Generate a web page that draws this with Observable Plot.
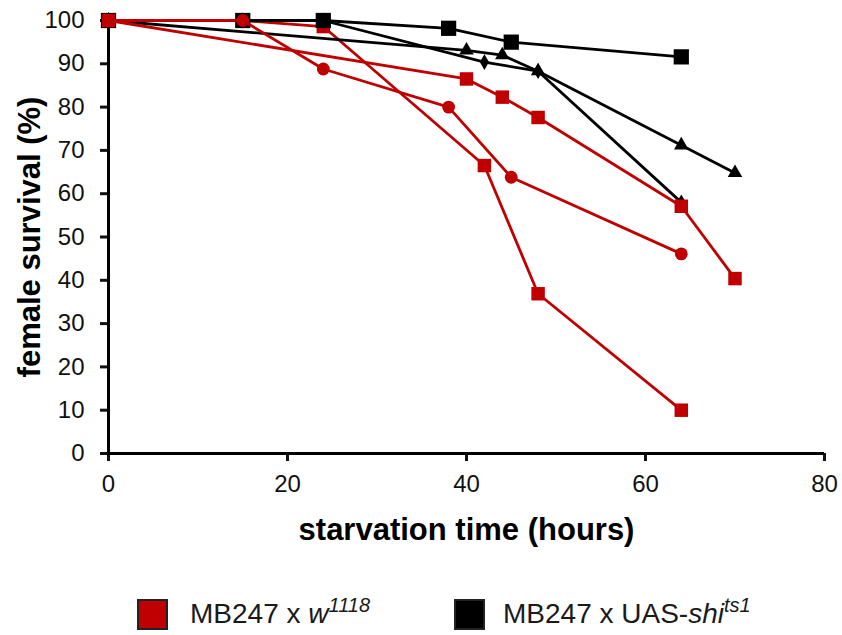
<!DOCTYPE html>
<html>
<head>
<meta charset="utf-8">
<script src="https://cdn.jsdelivr.net/npm/d3@7"></script>
<script src="https://cdn.jsdelivr.net/npm/@observablehq/plot@0.6"></script>
<style>
  body { margin: 0; background: #fff; font-family: "Liberation Sans", Arial, sans-serif; }
  #legend { position: relative; width: 842px; height: 40px; font-size: 28px; color: #1a1a1a; }
  .sw { position: absolute; top: 4px; width: 31px; height: 31px; box-sizing: border-box; border: 2px solid #222; }
  .lab { position: absolute; top: 3px; line-height: 32px; white-space: nowrap; }
  .lab sup { font-size: 20px; vertical-align: 0; position: relative; top: -11px; font-style: italic; }
</style>
</head>
<body>
<div id="chart"></div>
<div id="legend">
  <div class="sw" style="left:137px;background:#C00000;"></div>
  <div class="lab" style="left:190px;">MB247 x <i>w</i><sup>1118</sup></div>
  <div class="sw" style="left:454px;background:#000;"></div>
  <div class="lab" style="left:503px;">MB247 x UAS-<i>shi</i><sup>ts1</sup></div>
</div>
<script>
// ---- data ----
const xTicks = [0, 20, 40, 60, 80];
const yTicks = [0, 10, 20, 30, 40, 50, 60, 70, 80, 90, 100];

// MB247 x w1118 (red)
const redSqA_x = [0, 40, 44, 48, 64, 70];
const redSqA_y = [100, 86.5, 82.3, 77.6, 57.1, 40.4];
const redSqB_x = [0, 15, 24, 42, 48, 64];
const redSqB_y = [100, 100, 98.6, 66.5, 36.9, 10];
const redCirc_x = [0, 15, 24, 38, 45, 64];
const redCirc_y = [100, 100, 88.8, 80, 63.8, 46.1];

// MB247 x UAS-shits1 (black)
const blkSq_x = [0, 15, 24, 38, 45, 64];
const blkSq_y = [100, 100, 100, 98.2, 95, 91.6];
const blkTri_x = [0, 40, 44, 48, 64, 70];
const blkTri_y = [100, 93.1, 92, 88.3, 71.2, 64.8];
const blkDia_x = [0, 15, 24, 42, 48, 64];
const blkDia_y = [100, 100, 100, 90.4, 88.3, 58];

const RED = "#C00000";
const BLK = "#000000";

function rows(xs, ys) { return xs.map((x, i) => ({x, y: ys[i]})); }

const series = [
  {d: rows(redSqB_x, redSqB_y), c: RED, s: "square", r: 7.6},
  {d: rows(blkSq_x, blkSq_y), c: BLK, s: "square", r: 8.6},
  {d: rows(blkDia_x, blkDia_y), c: BLK, s: "diamond", r: 4.8},
  {d: rows(blkTri_x, blkTri_y), c: BLK, s: "triangle", r: 5.4},
  {d: rows(redSqA_x, redSqA_y), c: RED, s: "square", r: 7.6},
  {d: rows(redCirc_x, redCirc_y), c: RED, s: "circle", r: 6.4}
];

const marks = [];
for (const S of series) {
  marks.push(Plot.line(S.d, {x: "x", y: "y", stroke: S.c, strokeWidth: 2.8}));
  marks.push(Plot.dot(S.d, {x: "x", y: "y", fill: S.c, symbol: S.s, r: S.r, stroke: "none"}));
}

const chart = Plot.plot({
  width: 842,
  height: 595,
  marginLeft: 108,
  marginRight: 18,
  marginTop: 20,
  marginBottom: 142,
  style: {fontFamily: "'Liberation Sans', Arial, sans-serif", fontSize: "24px", color: "#111", background: "#fff"},
  x: {domain: [0, 80]},
  y: {domain: [0, 100]},
  marks: [
    Plot.axisX({ticks: xTicks, tickSize: 8, tickPadding: 13, strokeWidth: 3, label: null, tickFormat: d => String(d)}),
    Plot.axisY({ticks: yTicks, tickSize: 8, tickPadding: 16, strokeWidth: 3, label: null, tickFormat: d => String(d)}),
    Plot.ruleX([0], {stroke: "#000", strokeWidth: 3}),
    Plot.ruleY([0], {stroke: "#000", strokeWidth: 3}),
    Plot.text(["female survival (%)"], {frameAnchor: "left", dx: -78, rotate: -90, textAnchor: "middle", lineAnchor: "middle", fontSize: 31, fontWeight: "bold", fill: "#000"}),
    Plot.text(["starvation time (hours)"], {frameAnchor: "bottom", dy: 77, textAnchor: "middle", lineAnchor: "middle", fontSize: 31, fontWeight: "bold", fill: "#000"}),
    ...marks
  ]
});
document.getElementById("chart").appendChild(chart);
</script>
</body>
</html>
